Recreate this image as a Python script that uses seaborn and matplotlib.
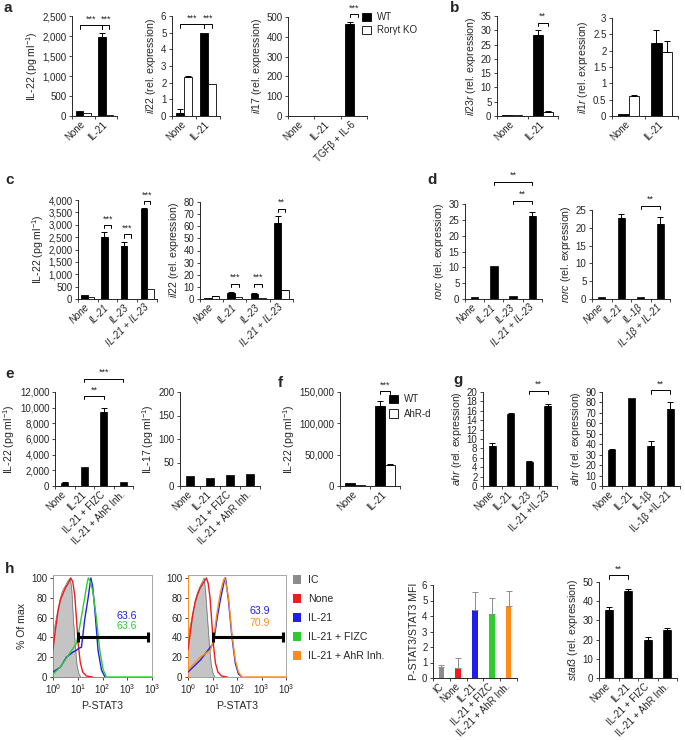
import numpy as np
import pandas as pd
import matplotlib
matplotlib.use("Agg")
import matplotlib.pyplot as plt
import seaborn as sns
from matplotlib.ticker import FuncFormatter
from matplotlib.patches import Patch

sns.set_theme(style="ticks")
plt.rcParams["font.family"] = ["Liberation Sans", "DejaVu Sans"]
plt.rcParams["mathtext.fontset"] = "custom"
plt.rcParams["mathtext.rm"] = "Liberation Sans"
plt.rcParams["mathtext.it"] = "Liberation Sans:italic"
plt.rcParams["mathtext.bf"] = "Liberation Sans:bold"
plt.rcParams["axes.linewidth"] = 0.7

# ---------------- data ----------------
cats2 = ["None", "IL-21"]
a3_cats = ["None", "IL-21", "TGFβ + IL-6"]
a1_wt = [125, 1970]; a1_wt_err = [0, 115]
a1_ko = [75, 20];    a1_ko_err = [0, 0]
a2_wt = [0.2, 5.0];  a2_wt_err = [0.2, 0]
a2_ko = [2.32, 1.9]; a2_ko_err = [0.08, 0]
a3_wt = [2, 2, 465]; a3_wt_err = [0, 0, 8]
a3_ko = [1, 1, 0];   a3_ko_err = [0, 0, 0]
b1_wt = [0.3, 28.2]; b1_wt_err = [0, 1.8]
b1_ko = [0.3, 1.5];  b1_ko_err = [0, 0.2]
b2_wt = [0.07, 2.22]; b2_wt_err = [0, 0.4]
b2_ko = [0.61, 1.97]; b2_ko_err = [0.02, 0.32]

c_cats = ["None", "IL-21", "IL-23", "IL-21 + IL-23"]
c1_wt = [160, 2520, 2150, 3640]; c1_wt_err = [0, 190, 170, 30]
c1_ko = [90, 20, 10, 400];       c1_ko_err = [0, 0, 0, 0]
c2_wt = [0.5, 5.0, 4.5, 62.8];   c2_wt_err = [0, 0.5, 0.4, 5.5]
c2_ko = [2.2, 1.8, 0.6, 7.4];    c2_ko_err = [0.2, 0, 0, 0.3]

d1_cats = ["None", "IL-21", "IL-23", "IL-21 + IL-23"]
d1_vals = [0.5, 10.4, 0.8, 26.2]; d1_err = [0, 0, 0, 1.3]
d2_cats = ["None", "IL-21", "IL-1β", "IL-1β + IL-21"]
d2_vals = [0.7, 22.7, 0.5, 21.1]; d2_err = [0, 1.2, 0, 1.8]

e_cats = ["None", "IL-21", "IL-21 + FIZC", "IL-21 + AhR Inh."]
e1_vals = [380, 2460, 9500, 460]; e1_err = [150, 0, 400, 0]
e2_vals = [21, 18, 24, 25];       e2_err = [0, 0, 0, 0]

f_wt = [4200, 127500]; f_wt_err = [0, 7500]
f_ko = [1000, 34300];  f_ko_err = [0, 1200]

g1_cats = ["None", "IL-21", "IL-23", "IL-21 +IL-23"]
g1_vals = [8.5, 15.3, 5.15, 17.0]; g1_err = [0.7, 0.3, 0.2, 0.5]
g2_cats = ["None", "IL-21", "IL-1β", "IL-1β +IL-21"]
g2_vals = [34, 84, 38.5, 73.7];    g2_err = [1.8, 0, 4.2, 6.4]

h3_cats = ["IC", "None", "IL-21", "IL-21 + FIZC", "IL-21 + AhR Inh."]
h3_vals = [0.7, 0.65, 4.38, 4.12, 4.64]; h3_err = [0.11, 0.67, 1.15, 1.03, 0.97]
h4_cats = ["None", "IL-21", "IL-21 + FIZC", "IL-21 + AhR Inh."]
h4_vals = [35.6, 45.4, 19.8, 25.2]; h4_err = [1.2, 1.0, 1.4, 0.6]

# flow histograms: log10 intensity vs % of max
h1_ic_x = [0, 0.1, 0.2, 0.3, 0.4, 0.5, 0.6, 0.7, 0.76, 0.82, 0.9, 0.97, 1.05, 1.12]
h1_ic_y = [42, 55, 68, 80, 88, 92, 97, 100, 88, 60, 32, 12, 3, 0]
h1_none_x = [0, 0.1, 0.2, 0.3, 0.4, 0.5, 0.6, 0.72, 0.8, 0.88, 0.95, 1.02, 1.1, 1.2, 1.35, 1.6]
h1_none_y = [28, 48, 66, 78, 84, 90, 94, 100, 96, 82, 58, 33, 15, 5, 1, 0]
h1_il21_x = [0, 0.3, 0.54, 0.8, 0.95, 1.04, 1.15, 1.28, 1.42, 1.53, 1.6, 1.69, 1.82, 1.96, 2.1]
h1_il21_y = [5, 10, 20, 25, 27, 29, 30, 58, 80, 100, 92, 68, 27, 7, 0]
h1_fizc_x = [0, 0.3, 0.54, 0.95, 1.08, 1.22, 1.38, 1.43, 1.52, 1.62, 1.76, 1.89, 2.03, 2.16, 4.0]
h1_fizc_y = [3, 10, 19, 34, 51, 71, 95, 100, 96, 85, 58, 27, 7, 0, 0]

h2_ic_x = [0, 0.1, 0.2, 0.3, 0.4, 0.5, 0.58, 0.66, 0.72, 0.8, 0.88, 0.95, 1.03, 1.1]
h2_ic_y = [40, 52, 65, 78, 86, 92, 96, 100, 86, 58, 30, 12, 3, 0]
h2_none_x = [0, 0.1, 0.2, 0.3, 0.4, 0.5, 0.6, 0.75, 0.82, 0.9, 0.97, 1.04, 1.12, 1.22, 1.37, 1.6]
h2_none_y = [28, 46, 64, 76, 84, 90, 94, 100, 95, 80, 56, 32, 14, 5, 1, 0]
h2_il21_x = [0, 0.5, 0.91, 1.04, 1.18, 1.32, 1.48, 1.53, 1.65, 1.79, 1.93, 2.06, 2.2]
h2_il21_y = [5, 17, 30, 34, 58, 78, 97, 100, 78, 41, 14, 3, 0]
h2_ahr_x = [0, 0.5, 0.91, 1.04, 1.18, 1.32, 1.45, 1.5, 1.65, 1.79, 1.93, 2.06, 2.2, 4.0]
h2_ahr_y = [7, 20, 27, 37, 64, 85, 98, 100, 81, 44, 17, 5, 0, 0]

# ---------------- layout ----------------
W, H = 685, 740
fig = plt.figure(figsize=(W / 100, H / 100), dpi=100)
FS = 7.0      # tick labels
LFS = 7.6     # axis labels
BLACK = "black"


def add_ax(x0, x1, yt, yb):
    return fig.add_axes([x0 / W, 1 - yb / H, (x1 - x0) / W, (yb - yt) / H])


comma = FuncFormatter(lambda v, p: f"{int(round(v)):,}")
plain = FuncFormatter(lambda v, p: f"{v:g}")


def style(ax, labels, ylim, yticks, fmt, ylabel, italic=False):
    n = len(labels)
    ax.set_xlim(-0.5, n - 0.5)
    ax.set_ylim(*ylim)
    ax.set_yticks(yticks)
    ax.yaxis.set_major_formatter(fmt)
    ax.set_xticks(range(n))
    ax.set_xticklabels(labels, rotation=45, ha="right", va="center",
                       rotation_mode="anchor", fontsize=FS,
                       fontstyle="italic" if italic else "normal")
    ax.set_xticks(np.arange(-0.5, n), minor=True)
    ax.tick_params(axis="x", which="major", length=0, pad=5)
    ax.tick_params(axis="x", which="minor", length=2.5, width=0.6, direction="out")
    ax.tick_params(axis="y", which="major", length=2.5, width=0.6, pad=1.5,
                   labelsize=FS, direction="out")
    sns.despine(ax=ax)
    ax.set_xlabel("")
    ax.set_ylabel(ylabel, fontsize=LFS, labelpad=2)


def errs(ax, containers_errs, color="black"):
    for cont, el in containers_errs:
        for bar, e in zip(cont, el):
            if e > 0:
                ax.errorbar(bar.get_x() + bar.get_width() / 2, bar.get_height(),
                            yerr=[[0], [e]], fmt="none", ecolor=color,
                            elinewidth=0.7, capsize=2.0, capthick=0.7, zorder=5)


def grouped(ax, cats, wt, wt_e, ko, ko_e):
    df = pd.DataFrame({"cat": list(cats) * 2,
                       "grp": ["WT"] * len(cats) + ["KO"] * len(cats),
                       "val": list(wt) + list(ko)})
    sns.barplot(data=df, x="cat", y="val", hue="grp", order=cats,
                hue_order=["WT", "KO"], palette={"WT": "black", "KO": "white"},
                edgecolor="black", linewidth=0.6, width=0.65, errorbar=None,
                legend=False, saturation=1, ax=ax)
    errs(ax, [(ax.containers[0], wt_e), (ax.containers[1], ko_e)])


def single(ax, cats, vals, e, width=0.4, colors=None, ecolor="black"):
    df = pd.DataFrame({"cat": cats, "val": vals})
    if colors is None:
        sns.barplot(data=df, x="cat", y="val", order=cats, color="black",
                    edgecolor="black", linewidth=0.5, width=width,
                    errorbar=None, saturation=1, ax=ax)
    else:
        sns.barplot(data=df, x="cat", y="val", order=cats, hue="cat",
                    palette=dict(zip(cats, colors)), legend=False,
                    linewidth=0, width=width, errorbar=None, saturation=1, ax=ax)
    bars = [p for c in ax.containers for p in c]
    errs(ax, [(bars, e)], color=ecolor)


def bracket(ax, x1, x2, y, text, leg_frac=0.035):
    lo, hi = ax.get_ylim()
    leg = (hi - lo) * leg_frac
    ax.plot([x1, x1, x2, x2], [y - leg, y, y, y - leg], color="black",
            lw=0.7, clip_on=False, zorder=6)
    ax.annotate(text, xy=((x1 + x2) / 2, y), xytext=(0, 1.2),
                textcoords="offset points", ha="center", va="bottom",
                fontsize=FS - 0.6, clip_on=False, annotation_clip=False)


def bx(ax, hue_i, cat_i):
    b = ax.containers[hue_i][cat_i]
    return b.get_x() + b.get_width() / 2


def sx(ax, i):
    bars = [p for c in ax.containers for p in c]
    b = bars[i]
    return b.get_x() + b.get_width() / 2


IL22 = "IL-22 (pg ml$^{-1}$)"

# ---- a ----
ax = add_ax(72, 117, 16, 116)
grouped(ax, cats2, a1_wt, a1_wt_err, a1_ko, a1_ko_err)
style(ax, cats2, (0, 2500), range(0, 2501, 500), comma, IL22)
bracket(ax, bx(ax, 0, 0), bx(ax, 0, 1), 2270, "***")
bracket(ax, bx(ax, 0, 1), bx(ax, 1, 1), 2270, "***")

ax = add_ax(172, 220, 16, 116)
grouped(ax, cats2, a2_wt, a2_wt_err, a2_ko, a2_ko_err)
style(ax, cats2, (0, 6), range(0, 7), plain, r"$\mathit{il22}$ (rel. expression)")
bracket(ax, bx(ax, 0, 0), bx(ax, 0, 1), 5.5, "***")
bracket(ax, bx(ax, 0, 1), bx(ax, 1, 1), 5.5, "***")

ax = add_ax(288, 367, 17, 116)
grouped(ax, a3_cats, a3_wt, a3_wt_err, a3_ko, a3_ko_err)
style(ax, a3_cats, (0, 500), range(0, 501, 100), plain, r"$\mathit{il17}$ (rel. expression)")
bracket(ax, bx(ax, 0, 2), bx(ax, 1, 2), 515, "***")

fig.legend(handles=[Patch(fc="black", ec="black", lw=0.6), Patch(fc="white", ec="black", lw=0.6)],
           labels=["WT", "Rorγt KO"], loc="upper left",
           bbox_to_anchor=(362 / W, 1 - 12 / H), frameon=False, fontsize=FS,
           handlelength=0.9, handleheight=0.9, handletextpad=0.6,
           labelspacing=0.35, borderaxespad=0, borderpad=0)

# ---- b ----
ax = add_ax(497, 558, 16, 116)
grouped(ax, cats2, b1_wt, b1_wt_err, b1_ko, b1_ko_err)
style(ax, cats2, (0, 35), range(0, 36, 5), plain, r"$\mathit{il23r}$ (rel. expression)")
bracket(ax, bx(ax, 0, 1), bx(ax, 1, 1), 32.6, "**")

ax = add_ax(612, 678, 18, 116)
grouped(ax, cats2, b2_wt, b2_wt_err, b2_ko, b2_ko_err)
style(ax, cats2, (0, 3), np.arange(0, 3.01, 0.5), plain, r"$\mathit{il1r}$ (rel. expression)")

# ---- c ----
ax = add_ax(78, 157, 200, 299)
grouped(ax, c_cats, c1_wt, c1_wt_err, c1_ko, c1_ko_err)
style(ax, c_cats, (0, 4000), range(0, 4001, 500), comma, IL22, italic=True)
bracket(ax, bx(ax, 0, 1), bx(ax, 1, 1), 2990, "***")
bracket(ax, bx(ax, 0, 2), bx(ax, 1, 2), 2620, "***")
bracket(ax, bx(ax, 0, 3), bx(ax, 1, 3), 3960, "***")

ax = add_ax(200, 293, 202, 299)
grouped(ax, c_cats, c2_wt, c2_wt_err, c2_ko, c2_ko_err)
style(ax, c_cats, (0, 80), range(0, 81, 10), plain, r"$\mathit{il22}$ (rel. expression)", italic=True)
bracket(ax, bx(ax, 0, 1), bx(ax, 1, 1), 12.6, "***")
bracket(ax, bx(ax, 0, 2), bx(ax, 1, 2), 12.6, "***")
bracket(ax, bx(ax, 0, 3), bx(ax, 1, 3), 74.6, "**")

# ---- d ----
ax = add_ax(465, 542, 204, 299)
single(ax, d1_cats, d1_vals, d1_err, width=0.38)
style(ax, d1_cats, (0, 30), range(0, 31, 5), plain, r"$\mathit{rorc}$ (rel. expression)", italic=True)
bracket(ax, sx(ax, 1), sx(ax, 3), 37.0, "**")
bracket(ax, sx(ax, 2), sx(ax, 3), 31.0, "**")

ax = add_ax(592, 670, 210, 299)
single(ax, d2_cats, d2_vals, d2_err, width=0.38)
style(ax, d2_cats, (0, 25), range(0, 26, 5), plain, r"$\mathit{rorc}$ (rel. expression)", italic=True)
bracket(ax, sx(ax, 2), sx(ax, 3), 26.2, "**")

# ---- e ----
ax = add_ax(55, 133, 392, 486)
single(ax, e_cats, e1_vals, e1_err, width=0.37)
style(ax, e_cats, (0, 12000), range(0, 12001, 2000), comma, IL22)
bracket(ax, sx(ax, 1), sx(ax, 2), 11500, "**")
bracket(ax, sx(ax, 1), sx(ax, 3), 13700, "***")

ax = add_ax(180, 260, 392, 486)
single(ax, e_cats, e2_vals, e2_err, width=0.37)
style(ax, e_cats, (0, 200), range(0, 201, 50), plain, "IL-17 (pg ml$^{-1}$)")

# ---- f ----
ax = add_ax(340, 400, 392, 486)
grouped(ax, cats2, f_wt, f_wt_err, f_ko, f_ko_err)
style(ax, cats2, (0, 150000), range(0, 150001, 50000), comma, IL22)
bracket(ax, bx(ax, 0, 1), bx(ax, 1, 1), 151500, "***")
fig.legend(handles=[Patch(fc="black", ec="black", lw=0.6), Patch(fc="white", ec="black", lw=0.6)],
           labels=["WT", "AhR-d"], loc="upper left",
           bbox_to_anchor=(389 / W, 1 - 394 / H), frameon=False, fontsize=FS,
           handlelength=0.9, handleheight=0.9, handletextpad=0.6,
           labelspacing=0.5, borderaxespad=0, borderpad=0)

# ---- g ----
ax = add_ax(483, 557, 392, 486)
single(ax, g1_cats, g1_vals, g1_err, width=0.37)
style(ax, g1_cats, (0, 20), range(0, 21, 2), plain, r"$\mathit{ahr}$ (rel. expression)")
bracket(ax, sx(ax, 2), sx(ax, 3), 20.3, "**")

ax = add_ax(602, 680, 392, 486)
single(ax, g2_cats, g2_vals, g2_err, width=0.37)
style(ax, g2_cats, (0, 90), range(0, 91, 10), plain, r"$\mathit{ahr}$ (rel. expression)")
bracket(ax, sx(ax, 2), sx(ax, 3), 91.6, "**")

# ---- h flow ----
C_IC, C_NONE, C_IL21, C_FIZC, C_AHR = "#8c8c8c", "#ee1c1c", "#1f1fe6", "#2ecc2e", "#ff8c1a"


def flow(ax, ic_x, ic_y, curves, gate, texts, edge, ylabel):
    ax.fill_between(ic_x, ic_y, color="#c4c4c4", lw=0, zorder=1)
    ax.plot(ic_x, ic_y, color="#6e6e6e", lw=0.5, zorder=2)
    for x, y, c in curves:
        sns.lineplot(x=x, y=y, color=c, lw=1.0, sort=False, estimator=None, ax=ax, zorder=3)
    g0, g1 = gate
    ax.plot([g0, g1], [40, 40], color="black", lw=2.2, zorder=4, solid_capstyle="butt")
    for g in gate:
        ax.plot([g, g], [35, 45], color="black", lw=2.2, zorder=4, solid_capstyle="butt")
    for tx, ty, t, c in texts:
        ax.text(tx, ty, t, color=c, fontsize=LFS, ha="center", va="center")
    ax.set_xlim(0, 4)
    ax.set_ylim(0, 103)
    ax.set_xticks(range(5))
    ax.set_xticklabels(["10$^0$", "10$^1$", "10$^2$", "10$^3$", "10$^3$"], fontsize=FS)
    ax.set_yticks(range(0, 101, 20))
    ax.tick_params(axis="both", length=2.5, width=0.6, pad=1.5, labelsize=FS, direction="out")
    for s in ax.spines.values():
        s.set_color("#a8a8a8")
        s.set_linewidth(0.7)
    ax.spines["left"].set_color(edge)
    ax.spines["bottom"].set_color(edge)
    ax.set_xlabel("P-STAT3", fontsize=LFS, labelpad=3)
    ax.set_ylabel(ylabel, fontsize=LFS, labelpad=3)


ax = add_ax(53, 152, 575, 677)
flow(ax, h1_ic_x, h1_ic_y,
     [(h1_none_x, h1_none_y, C_NONE), (h1_il21_x, h1_il21_y, C_IL21), (h1_fizc_x, h1_fizc_y, C_FIZC)],
     (1.01, 3.82), [(2.97, 61.5, "63.6", C_IL21), (2.97, 51.5, "63.6", C_FIZC)], C_FIZC, "% Of max")

ax = add_ax(188, 286, 575, 677)
flow(ax, h2_ic_x, h2_ic_y,
     [(h2_none_x, h2_none_y, C_NONE), (h2_il21_x, h2_il21_y, C_IL21), (h2_ahr_x, h2_ahr_y, C_AHR)],
     (1.04, 3.86), [(2.94, 67, "63.9", C_IL21), (2.94, 55, "70.9", C_AHR)], C_AHR, "")

fig.legend(handles=[Patch(fc=c, ec="none") for c in [C_IC, C_NONE, C_IL21, C_FIZC, C_AHR]],
           labels=["IC", "None", "IL-21", "IL-21 + FIZC", "IL-21 + AhR Inh."],
           loc="upper left", bbox_to_anchor=(293 / W, 1 - 575 / H), frameon=False,
           fontsize=LFS, handlelength=0.8, handleheight=0.9, handletextpad=0.6,
           labelspacing=0.85, borderaxespad=0, borderpad=0)

ax = add_ax(433, 517, 585, 678)
single(ax, h3_cats, h3_vals, h3_err, width=0.34,
       colors=[C_IC, C_NONE, C_IL21, C_FIZC, C_AHR], ecolor="#8c8c8c")
style(ax, h3_cats, (0, 6), range(0, 7), plain, "P-STAT3/STAT3 MFI")

ax = add_ax(599, 677, 582, 678)
single(ax, h4_cats, h4_vals, h4_err, width=0.43)
style(ax, h4_cats, (0, 50), range(0, 51, 10), plain, r"$\mathit{stat3}$ (rel. expression)")
bracket(ax, sx(ax, 0), sx(ax, 1), 53.5, "**")

# panel letters
for lab, px, py in [("a", 8, 8), ("b", 455, 8), ("c", 10, 180), ("d", 432, 180),
                    ("e", 10, 374), ("f", 280, 383), ("g", 458, 380), ("h", 10, 569)]:
    fig.text(px / W, 1 - py / H, lab, fontsize=11, fontweight="bold",
             ha="center", va="center")

fig.savefig("out.png", dpi=100)
